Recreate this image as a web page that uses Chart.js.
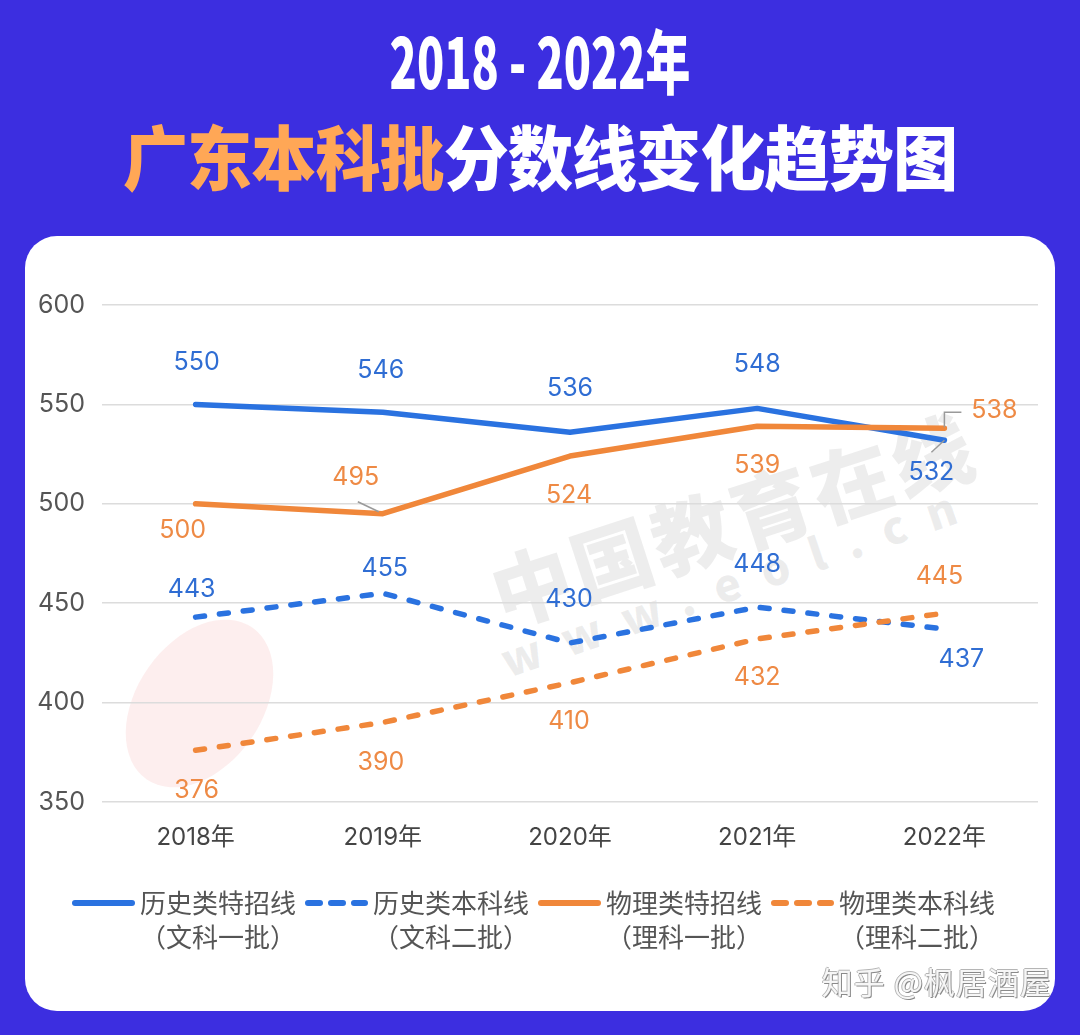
<!DOCTYPE html>
<html>
<head>
<meta charset="utf-8">
<script src="https://cdn.jsdelivr.net/npm/chart.js@4.4.0/dist/chart.umd.min.js"></script>
<style>
  html, body { margin: 0; padding: 0; }
  body { width: 1080px; height: 1035px; background: #3c2ee0; position: relative; overflow: hidden;
         font-family: "Noto Sans CJK SC", sans-serif; }
  .t1 { position: absolute; left: 0; width: 1080px; top: 19px; text-align: center; color: #fff; white-space: nowrap;
        font-size: 70px; font-weight: 900; line-height: 80px; transform: scaleX(0.64); }
  .t2 { position: absolute; left: 0; width: 1080px; top: 110px; text-align: center; color: #fff; white-space: nowrap;
        font-size: 70px; font-weight: 900; line-height: 90px; letter-spacing: -1px; transform: scaleX(0.93); }
  .t2 .o { color: #ffa756; }
  .card { position: absolute; left: 25px; top: 236px; width: 1030px; height: 775px; background: #fff;
          border-radius: 32px; overflow: hidden; }
  .wm { position: absolute; color: rgba(110,110,110,0.12); font-weight: 900; white-space: nowrap;
        line-height: 1; transform-origin: 0 100%; }
  .logo { position: absolute; left: 112px; top: 375px; width: 125px; height: 185px; border-radius: 50%;
          background: rgba(235,90,90,0.10); transform: rotate(35deg); }
  .zh { position: absolute; right: 3px; bottom: 8px; font-size: 31px; color: #f6f6f6;
        text-shadow: 1px 1px 0 #8a8a8a, -1px 0 0 #b5b5b5, 0 -1px 0 #b5b5b5; letter-spacing: 1px; }
  canvas { position: absolute; left: 0; top: 0; }
</style>
</head>
<body>
<div class="t1">2018 - 2022年</div>
<div class="t2"><span class="o">广东本科批</span>分数线变化趋势图</div>
<div class="card">
  <div class="logo"></div>
  <div class="wm" style="left:480px; top:316px; font-size:80px; letter-spacing:4px; transform: rotate(-18deg);">中国教育在线</div>
  <div class="wm" style="left:484px; top:400px; font-size:45px; letter-spacing:23px; transform: rotate(-19deg);">www.eol.cn</div>
  <canvas id="grafik" width="1030" height="775"></canvas>
  <div class="zh">知乎 @枫居酒屋</div>
</div>
<script>
// data
const tahun = ["2018年", "2019年", "2020年", "2021年", "2022年"];
const sejarahKhusus = [550, 546, 536, 548, 532];   // 历史类特招线
const sejarahSarjana = [443, 455, 430, 448, 437];  // 历史类本科线
const fisikaKhusus = [500, 495, 524, 539, 538];    // 物理类特招线
const fisikaSarjana = [376, 390, 410, 432, 445];   // 物理类本科线
const yTicks = [350, 400, 450, 500, 550, 600];
const legendUtama = ["历史类特招线", "历史类本科线", "物理类特招线", "物理类本科线"];
const legendSub = ["（文科一批）", "（文科二批）", "（理科一批）", "（理科二批）"];

const BIRU = "#2a72e0", ORANYE = "#f0873a";
const BIRU_TEKS = "#2f6dd3", ORANYE_TEKS = "#ee8a45";
const FONT = "Inter, 'Noto Sans CJK SC', sans-serif";

// posisi label (dx, dy dari titik), garis penunjuk opsional — urutan sama dengan datasets
const posisiLabel = [
  [[1, -42], [-2, -42], [0, -44], [0, -44], [-13, 32, [[0, 0], [-13, 12]]]],
  [[-4, -28], [2, -25], [-1, -43], [0, -43], [17, 30]],
  [[-13, 27], [-27, -36, [[-25, -12], [-4, -2]]], [-1, 39], [0, 39], [50, -18, [[0, -1], [0, -16], [17, -16]]]],
  [[1, 40], [-2, 40], [-1, 39], [0, 39], [-5, -37]]
];

const pluginLabel = {
  id: "labelNilai",
  afterDatasetsDraw(chart) {
    const ctx = chart.ctx;
    ctx.save();
    ctx.font = "25px " + FONT;
    ctx.textAlign = "center";
    ctx.textBaseline = "middle";
    chart.data.datasets.forEach((ds, i) => {
      const meta = chart.getDatasetMeta(i);
      meta.data.forEach((pt, j) => {
        const p = posisiLabel[i][j];
        if (p[2]) {
          ctx.strokeStyle = "#9a9a9a";
          ctx.lineWidth = 1.5;
          ctx.beginPath();
          p[2].forEach((q, k) => k ? ctx.lineTo(pt.x + q[0], pt.y + q[1]) : ctx.moveTo(pt.x + q[0], pt.y + q[1]));
          ctx.stroke();
        }
        ctx.fillStyle = ds.warnaTeks;
        ctx.fillText(ds.data[j], pt.x + p[0], pt.y + p[1]);
      });
    });
    ctx.restore();
  }
};

// legenda dua baris digambar manual
const pluginLegenda = {
  id: "legendaDuaBaris",
  afterDraw(chart) {
    const ctx = chart.ctx;
    ctx.save();
    let x = 47;
    const y1 = 667, y2 = 701;
    chart.data.datasets.forEach((ds, i) => {
      ctx.strokeStyle = ds.borderColor;
      ctx.lineWidth = 6;
      ctx.lineCap = "round";
      ctx.setLineDash(ds.borderDash.length ? [12, 11] : []);
      ctx.beginPath();
      ctx.moveTo(x + 3, y1);
      ctx.lineTo(x + 60, y1);
      ctx.stroke();
      ctx.setLineDash([]);
      const tx = x + 68;
      ctx.font = "26px 'Noto Sans CJK SC', sans-serif";
      ctx.fillStyle = "#555";
      ctx.textBaseline = "middle";
      ctx.textAlign = "left";
      const w = ctx.measureText(legendUtama[i]).width;
      ctx.fillText(legendUtama[i], tx, y1);
      ctx.textAlign = "center";
      ctx.fillText(legendSub[i], tx + w / 2, y2);
      x = tx + w + 9;
    });
    ctx.restore();
  }
};

function dataset(label, data, warna, warnaTeks, dash, urutan) {
  return {
    label, data,
    borderColor: warna,
    backgroundColor: warna,
    warnaTeks,
    borderWidth: 5.5,
    borderDash: dash,
    borderCapStyle: "round",
    borderJoinStyle: "round",
    pointRadius: 0,
    tension: 0,
    fill: false,
    order: urutan
  };
}

const ctx = document.getElementById("grafik").getContext("2d");
window.grafik = new Chart(ctx, {
  type: "line",
  data: {
    labels: tahun,
    datasets: [
      dataset(legendUtama[0], sejarahKhusus, BIRU, BIRU_TEKS, [], 3),
      dataset(legendUtama[1], sejarahSarjana, BIRU, BIRU_TEKS, [9, 15], 2),
      dataset(legendUtama[2], fisikaKhusus, ORANYE, ORANYE_TEKS, [], 1),
      dataset(legendUtama[3], fisikaSarjana, ORANYE, ORANYE_TEKS, [9, 15], 0)
    ]
  },
  options: {
    responsive: false,
    animation: false,
    layout: { padding: { top: 69, right: 17, left: 0, bottom: 149 } },
    plugins: {
      legend: { display: false },
      tooltip: { enabled: false }
    },
    scales: {
      x: {
        offset: true,
        grid: { display: false },
        border: { display: false },
        ticks: { color: "#444", font: { size: 24, family: FONT }, padding: 13 },
        afterFit(s) { s.height = 60; }
      },
      y: {
        min: 350,
        max: 600,
        grid: { color: "#dcdcdc", lineWidth: 1.5, drawTicks: false },
        border: { display: false },
        ticks: { color: "#555", font: { size: 25, family: FONT }, padding: 17 },
        afterBuildTicks(s) { s.ticks = yTicks.map(v => ({ value: v })); },
        afterFit(s) { s.width = 77; }
      }
    }
  },
  plugins: [pluginLabel, pluginLegenda]
});
</script>
</body>
</html>
